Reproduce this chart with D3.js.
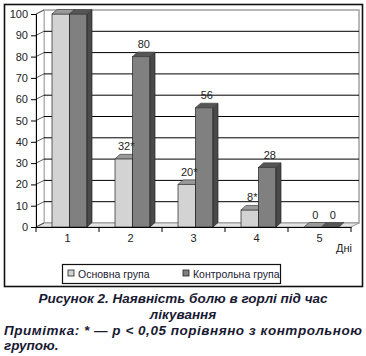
<!DOCTYPE html>
<html><head><meta charset="utf-8">
<script src="https://cdn.jsdelivr.net/npm/d3@7"></script>
<style>body{margin:0;background:#fff}svg{display:block}</style>
</head><body>
<script>
const categories = ["1","2","3","4","5"];
const mainGroup = [100,32,20,8,0];
const controlGroup = [100,80,56,28,0];
const mainLabels = ["","32*","20*","8*","0"];
const controlLabels = ["","80","56","28","0"];
const yTicks = [0,10,20,30,40,50,60,70,80,90,100];
const seriesNames = ["Основна група","Контрольна група"];

const W=366,H=356;
const svg=d3.select("body").append("svg").attr("width",W).attr("height",H);
svg.append("rect").attr("width",W).attr("height",H).attr("fill","#fff");

const x=d3.scaleBand().domain(categories).range([36,351]);
const y=d3.scaleLinear().domain([0,100]).range([227,14]);
const wdx=8, wdy=-4;   // wall depth
const bdx=5, bdy=-4.5; // bar depth
const bw=17.5, shift=2;

// outer frame
svg.append("rect").attr("x",4.5).attr("y",4.5).attr("width",358).attr("height",282)
  .attr("fill","none").attr("stroke","#111").attr("stroke-width",1.6);

// back wall
const x0=x.range()[0], x1=x.range()[1];
svg.append("rect").attr("x",x0+wdx).attr("y",y(100)+wdy).attr("width",x1-x0).attr("height",y(0)-y(100))
  .attr("fill","#fff").attr("stroke","#a0a0a0").attr("stroke-width",1.5);
// side wall
svg.append("path").attr("d",`M${x0},${y(100)}L${x0+wdx},${y(100)+wdy}L${x0+wdx},${y(0)+wdy}L${x0},${y(0)}Z`)
  .attr("fill","#fff").attr("stroke","#b0b0b0").attr("stroke-width",1);
// floor
svg.append("path").attr("d",`M${x0},${y(0)}L${x0+wdx},${y(0)+wdy}L${x1+wdx},${y(0)+wdy}L${x1},${y(0)}Z`)
  .attr("fill","#e4e4e4").attr("stroke","#999").attr("stroke-width",1);

// gridlines
yTicks.filter(v=>v>0&&v<100).forEach(v=>{
  svg.append("line").attr("x1",x0+wdx).attr("x2",x1+wdx).attr("y1",y(v)+wdy).attr("y2",y(v)+wdy)
    .attr("stroke","#000").attr("stroke-width",1);
});
yTicks.forEach(v=>{
  svg.append("line").attr("x1",x0).attr("x2",x0+wdx).attr("y1",y(v)).attr("y2",y(v)+wdy)
    .attr("stroke","#333").attr("stroke-width",0.8);
});

// bars
function bar(g,xl,val,cFront,cTop,cSide){
  const yt=y(val), yb=y(0);
  if(val>0){
    g.append("rect").attr("x",xl).attr("y",yt).attr("width",bw).attr("height",yb-yt)
      .attr("fill",cFront).attr("stroke","#222").attr("stroke-width",0.7);
    g.append("path").attr("d",`M${xl+bw},${yt}L${xl+bw+bdx},${yt+bdy}L${xl+bw+bdx},${yb+bdy}L${xl+bw},${yb}Z`)
      .attr("fill",cSide).attr("stroke","#222").attr("stroke-width",0.7);
  }
  g.append("path").attr("d",`M${xl},${yt}L${xl+bdx},${yt+bdy}L${xl+bw+bdx},${yt+bdy}L${xl+bw},${yt}Z`)
    .attr("fill",cTop).attr("stroke","#444").attr("stroke-width",0.7);
}
const gb=svg.append("g");
categories.forEach((c,i)=>{
  const cx=x(c)+x.bandwidth()/2+shift;
  bar(gb,cx-bw,mainGroup[i],"#d3d3d3","#9a9a9a","#a0a0a0");
  bar(gb,cx,controlGroup[i],"#808080","#555","#4a4a4a");
});

// value labels
const lab=svg.append("g").attr("font-family","Arial, Liberation Sans, sans-serif").attr("font-size",11)
  .attr("fill","#222").attr("text-anchor","middle");
categories.forEach((c,i)=>{
  const cx=x(c)+x.bandwidth()/2+shift;
  lab.append("text").attr("x",cx-bw/2+bdx/2).attr("y",y(mainGroup[i])+bdy-4).text(mainLabels[i]);
  lab.append("text").attr("x",cx+bw/2+bdx/2).attr("y",y(controlGroup[i])+bdy-4).text(controlLabels[i]);
});

// axes
const yAxis=d3.axisLeft(y).tickValues(yTicks).tickSize(5).tickPadding(3);
const gy=svg.append("g").attr("transform",`translate(${x0},0)`).call(yAxis);
gy.select(".domain").attr("stroke","#000");
gy.selectAll(".tick line").attr("stroke","#000");
gy.selectAll("text").attr("font-family","Arial, Liberation Sans, sans-serif").attr("font-size",11).attr("fill","#222");

const xAxis=d3.axisBottom(x).tickSize(0).tickPadding(7);
const gx=svg.append("g").attr("transform",`translate(0,${y(0)})`).call(xAxis);
gx.select(".domain").attr("stroke","#000");
gx.selectAll("text").attr("font-family","Arial, Liberation Sans, sans-serif").attr("font-size",11).attr("fill","#222");
// category boundary ticks
const bounds=categories.map(c=>x(c)).concat([x1]);
bounds.forEach(b=>{
  svg.append("line").attr("x1",b).attr("x2",b).attr("y1",y(0)).attr("y2",y(0)+5).attr("stroke","#000");
});
svg.append("text").attr("x",344).attr("y",252).attr("text-anchor","middle")
  .attr("font-family","Arial, Liberation Sans, sans-serif").attr("font-size",11).attr("fill","#222").text("Дні");

// legend
const lg=svg.append("g");
lg.append("rect").attr("x",62.5).attr("y",264.5).attr("width",218).attr("height",19)
  .attr("fill","#fff").attr("stroke","#111").attr("stroke-width",1.2);
const legX=[68,183];
const legC=["#d3d3d3","#808080"];
seriesNames.forEach((n,i)=>{
  lg.append("rect").attr("x",legX[i]).attr("y",270).attr("width",6).attr("height",6)
    .attr("fill",legC[i]).attr("stroke","#222").attr("stroke-width",0.8);
  lg.append("text").attr("x",legX[i]+10).attr("y",277.5).attr("font-family","Arial, Liberation Sans, sans-serif")
    .attr("font-size",10.5).attr("fill","#1a1a33").text(n);
});

// caption
const cap=svg.append("g").attr("font-family","Arial, Liberation Sans, sans-serif").attr("font-weight","bold")
  .attr("font-style","italic").attr("font-size",13.5).attr("fill","#1a1a33");
cap.append("text").attr("x",183).attr("y",303).attr("text-anchor","middle").text("Рисунок 2. Наявність болю в горлі під час");
cap.append("text").attr("x",183).attr("y",319).attr("text-anchor","middle").text("лікування");
cap.append("text").attr("x",4).attr("y",335).attr("textLength",358).attr("lengthAdjust","spacing")
  .text("Примітка: * — p < 0,05 порівняно з контрольною");
cap.append("text").attr("x",4).attr("y",350).text("групою.");
</script>
</body></html>
